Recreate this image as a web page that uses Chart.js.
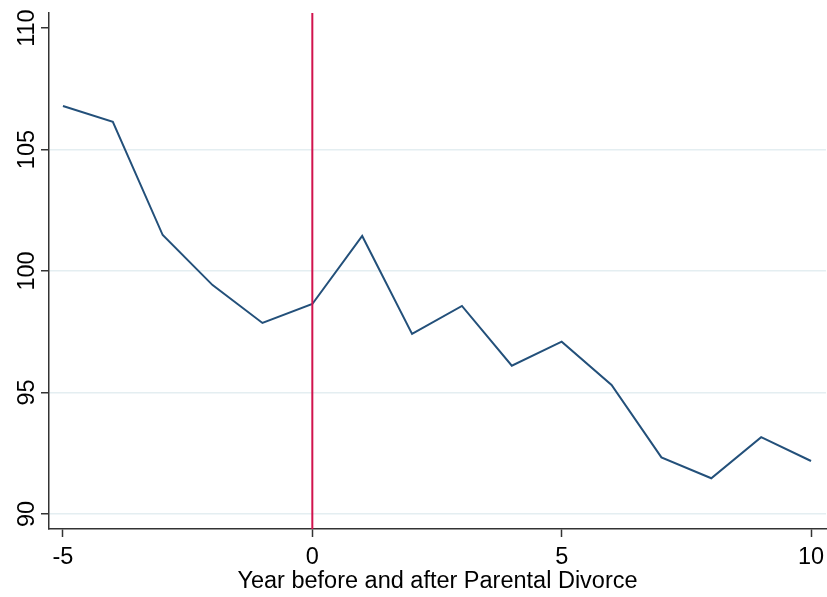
<!DOCTYPE html>
<html>
<head>
<meta charset="utf-8">
<script src="https://cdn.jsdelivr.net/npm/chart.js@4"></script>
<style>
  html, body { margin: 0; padding: 0; background: #fff; }
  #wrap { width: 827px; height: 597px; }
</style>
</head>
<body>
<div id="wrap"><canvas id="divorceChart"></canvas></div>
<script>
const years = [-5, -4, -3, -2, -1, 0, 1, 2, 3, 4, 5, 6, 7, 8, 9, 10];
const values = [106.79, 106.14, 101.48, 99.42, 97.86, 98.64, 101.44, 97.41, 98.56, 96.10, 97.09, 95.31, 92.33, 91.47, 93.16, 92.18];
const xTicks = [-5, 0, 5, 10];
const yTicks = [90, 95, 100, 105, 110];
const divorceYear = 0;

const ctx = document.getElementById("divorceChart").getContext("2d");
const font = { family: "Liberation Sans, Arial, sans-serif", size: 23.5 };

// red vertical marker at the year of divorce
const divorceLine = {
  id: "divorceLine",
  afterDatasetsDraw(chart) {
    const x = chart.scales.x.getPixelForValue(divorceYear);
    const area = chart.chartArea;
    const c = chart.ctx;
    c.save();
    c.strokeStyle = "#d1134d";
    c.lineWidth = 2;
    c.beginPath();
    c.moveTo(x, area.top);
    c.lineTo(x, area.bottom);
    c.stroke();
    c.restore();
  }
};

const chart = new Chart(ctx, {
  type: "line",
  data: {
    datasets: [{
      data: years.map((y, i) => ({ x: y, y: values[i] })),
      borderColor: "#23507a",
      borderWidth: 2,
      pointRadius: 0,
      tension: 0,
      fill: false
    }]
  },
  options: {
    responsive: true,
    maintainAspectRatio: false,
    animation: false,
    layout: { padding: { top: 13, right: 1, left: 0, bottom: 0 } },
    plugins: {
      legend: { display: false },
      tooltip: { enabled: false }
    },
    scales: {
      x: {
        type: "linear",
        min: -5.28,
        max: 10.3,
        afterBuildTicks: axis => { axis.ticks = xTicks.map(v => ({ value: v })); },
        afterFit: axis => {
          axis.height = 68;
          axis.paddingLeft = 0;
          axis.paddingRight = 0;
        },
        border: { display: true, color: "#333", width: 1.5 },
        grid: { drawOnChartArea: false, drawTicks: true, tickLength: 8, tickColor: "#333", tickWidth: 1.5 },
        ticks: { color: "#000", font: font, padding: 6, maxRotation: 0 },
        title: {
          display: true,
          text: "Year before and after Parental Divorce",
          color: "#000",
          font: font,
          padding: { top: 0, bottom: 1 }
        }
      },
      y: {
        min: 89.38,
        max: 110.62,
        afterBuildTicks: axis => { axis.ticks = yTicks.map(v => ({ value: v })); },
        afterFit: axis => {
          axis.width = 49;
          axis.paddingTop = 0;
          axis.paddingBottom = 0;
        },
        border: { display: true, color: "#333", width: 1.5 },
        grid: {
          color: c => (c.tick && c.tick.value === 110 ? "rgba(0,0,0,0)" : "#e4eef1"),
          lineWidth: 1.5,
          drawTicks: true,
          tickLength: 8,
          tickColor: "#333",
          tickWidth: 1.5
        },
        ticks: {
          color: "#000",
          font: font,
          padding: -6,
          crossAlign: "center",
          minRotation: 90,
          maxRotation: 90
        }
      }
    }
  },
  plugins: [divorceLine]
});
</script>
</body>
</html>
